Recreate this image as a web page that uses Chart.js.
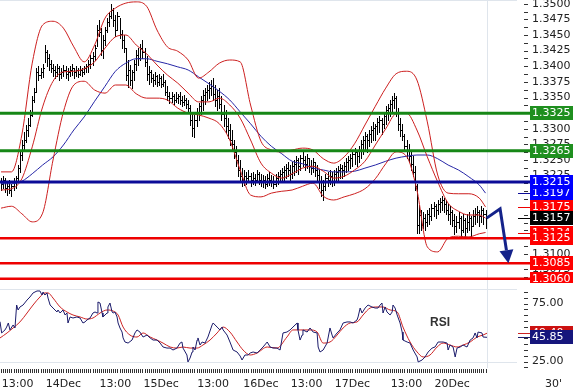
<!DOCTYPE html>
<html lang="en">
<head>
<meta charset="UTF-8">
<title>30' chart</title>
<script src="https://cdn.jsdelivr.net/npm/chart.js"></script>
<style>
  body { margin: 0; background: #fff; }
  #wrap { position: relative; width: 573px; height: 390px; }
  #price { position: absolute; left: 0; top: 0; }
  #rsi { position: absolute; left: 0; top: 283px; }
</style>
</head>
<body>
<div id="wrap">
  <canvas id="price" width="573" height="283"></canvas>
  <canvas id="rsi" width="573" height="107"></canvas>
</div>
<script>
// 30 minute bars, one entry per bar
const high = [
  1.3221,1.3224,1.3221,1.3215,1.3218,1.3212,1.3221,1.3224,1.3242,1.3266,
  1.3282,1.3295,1.3306,1.3317,1.3330,1.3352,1.3365,1.3397,1.3400,1.3397,
  1.3404,1.3434,1.3426,1.3420,1.3410,1.3404,1.3400,1.3404,1.3400,1.3397,
  1.3402,1.3400,1.3397,1.3400,1.3404,1.3397,1.3400,1.3397,1.3400,1.3397,
  1.3400,1.3404,1.3410,1.3418,1.3423,1.3434,1.3466,1.3474,1.3461,1.3450,
  1.3463,1.3477,1.3487,1.3500,1.3493,1.3482,1.3487,1.3477,1.3458,1.3450,
  1.3429,1.3410,1.3402,1.3394,1.3410,1.3426,1.3429,1.3436,1.3442,1.3429,
  1.3416,1.3400,1.3394,1.3388,1.3391,1.3386,1.3388,1.3384,1.3388,1.3378,
  1.3368,1.3359,1.3359,1.3356,1.3359,1.3356,1.3359,1.3352,1.3354,1.3349,
  1.3346,1.3338,1.3327,1.3322,1.3333,1.3341,1.3352,1.3362,1.3365,1.3370,
  1.3375,1.3378,1.3381,1.3370,1.3362,1.3365,1.3352,1.3338,1.3330,1.3317,
  1.3308,1.3298,1.3282,1.3272,1.3258,1.3250,1.3237,1.3234,1.3231,1.3234,
  1.3229,1.3231,1.3228,1.3234,1.3231,1.3228,1.3226,1.3224,1.3228,1.3231,
  1.3226,1.3224,1.3228,1.3231,1.3234,1.3237,1.3240,1.3244,1.3247,1.3242,
  1.3247,1.3250,1.3256,1.3253,1.3258,1.3263,1.3256,1.3260,1.3253,1.3250,
  1.3253,1.3247,1.3242,1.3234,1.3224,1.3218,1.3228,1.3231,1.3234,1.3231,
  1.3234,1.3237,1.3240,1.3244,1.3242,1.3247,1.3253,1.3256,1.3260,1.3266,
  1.3269,1.3266,1.3272,1.3282,1.3288,1.3295,1.3292,1.3298,1.3304,1.3311,
  1.3308,1.3317,1.3320,1.3317,1.3327,1.3336,1.3340,1.3346,1.3352,1.3357,
  1.3352,1.3333,1.3317,1.3308,1.3292,1.3282,1.3276,1.3266,1.3256,1.3240,
  1.3212,1.3178,1.3170,1.3167,1.3164,1.3170,1.3173,1.3180,1.3183,1.3180,
  1.3186,1.3189,1.3192,1.3189,1.3186,1.3180,1.3176,1.3170,1.3164,1.3160,
  1.3167,1.3160,1.3164,1.3157,1.3164,1.3167,1.3160,1.3170,1.3173,1.3176,
  1.3170,1.3176,1.3173,1.3170
];
const low = [
  1.3202,1.3205,1.3199,1.3194,1.3197,1.3192,1.3202,1.3205,1.3218,1.3231,
  1.3250,1.3266,1.3279,1.3288,1.3304,1.3320,1.3343,1.3359,1.3378,1.3381,
  1.3383,1.3407,1.3400,1.3394,1.3391,1.3384,1.3381,1.3384,1.3378,1.3381,
  1.3384,1.3381,1.3378,1.3384,1.3386,1.3381,1.3384,1.3383,1.3386,1.3384,
  1.3388,1.3391,1.3391,1.3397,1.3402,1.3410,1.3432,1.3448,1.3418,1.3413,
  1.3434,1.3455,1.3464,1.3477,1.3464,1.3448,1.3458,1.3445,1.3429,1.3423,
  1.3378,1.3367,1.3370,1.3365,1.3378,1.3394,1.3402,1.3410,1.3413,1.3400,
  1.3378,1.3372,1.3375,1.3368,1.3372,1.3368,1.3370,1.3367,1.3368,1.3354,
  1.3346,1.3341,1.3343,1.3340,1.3343,1.3341,1.3340,1.3336,1.3338,1.3333,
  1.3327,1.3306,1.3288,1.3287,1.3304,1.3314,1.3324,1.3330,1.3340,1.3346,
  1.3349,1.3354,1.3346,1.3336,1.3330,1.3333,1.3314,1.3304,1.3295,1.3285,
  1.3274,1.3266,1.3253,1.3240,1.3224,1.3215,1.3208,1.3210,1.3212,1.3215,
  1.3208,1.3212,1.3210,1.3215,1.3212,1.3208,1.3207,1.3205,1.3208,1.3210,
  1.3208,1.3205,1.3208,1.3212,1.3215,1.3218,1.3218,1.3221,1.3224,1.3218,
  1.3221,1.3226,1.3231,1.3228,1.3234,1.3240,1.3234,1.3237,1.3231,1.3228,
  1.3231,1.3224,1.3218,1.3205,1.3192,1.3186,1.3202,1.3208,1.3212,1.3208,
  1.3210,1.3215,1.3218,1.3221,1.3221,1.3224,1.3231,1.3234,1.3237,1.3240,
  1.3244,1.3240,1.3247,1.3253,1.3260,1.3266,1.3263,1.3272,1.3279,1.3282,
  1.3282,1.3292,1.3295,1.3292,1.3301,1.3308,1.3314,1.3320,1.3327,1.3333,
  1.3320,1.3298,1.3288,1.3282,1.3266,1.3253,1.3247,1.3234,1.3224,1.3202,
  1.3133,1.3133,1.3138,1.3141,1.3138,1.3144,1.3148,1.3154,1.3160,1.3157,
  1.3164,1.3167,1.3170,1.3167,1.3164,1.3154,1.3148,1.3144,1.3132,1.3135,
  1.3141,1.3128,1.3135,1.3128,1.3135,1.3138,1.3128,1.3144,1.3148,1.3151,
  1.3144,1.3151,1.3148,1.3141
];
const close = [
  1.3212,1.3218,1.3205,1.3208,1.3202,1.3208,1.3215,1.3221,1.3237,1.3258,
  1.3274,1.3282,1.3298,1.3306,1.3322,1.3346,1.3359,1.3391,1.3386,1.3391,
  1.3397,1.3423,1.3413,1.3404,1.3397,1.3394,1.3391,1.3397,1.3388,1.3391,
  1.3394,1.3388,1.3391,1.3394,1.3397,1.3391,1.3394,1.3388,1.3394,1.3391,
  1.3397,1.3400,1.3404,1.3413,1.3416,1.3429,1.3458,1.3455,1.3426,1.3442,
  1.3458,1.3471,1.3480,1.3490,1.3474,1.3458,1.3480,1.3452,1.3442,1.3429,
  1.3386,1.3394,1.3378,1.3391,1.3404,1.3418,1.3413,1.3429,1.3423,1.3407,
  1.3388,1.3391,1.3381,1.3378,1.3384,1.3375,1.3381,1.3372,1.3375,1.3359,
  1.3352,1.3349,1.3352,1.3346,1.3349,1.3352,1.3346,1.3343,1.3346,1.3340,
  1.3333,1.3314,1.3301,1.3314,1.3327,1.3336,1.3346,1.3354,1.3359,1.3362,
  1.3365,1.3368,1.3356,1.3346,1.3352,1.3340,1.3324,1.3317,1.3304,1.3298,
  1.3282,1.3276,1.3263,1.3250,1.3234,1.3224,1.3218,1.3224,1.3221,1.3224,
  1.3218,1.3221,1.3218,1.3228,1.3218,1.3215,1.3218,1.3212,1.3221,1.3218,
  1.3215,1.3212,1.3221,1.3224,1.3228,1.3231,1.3234,1.3237,1.3234,1.3228,
  1.3240,1.3244,1.3250,1.3240,1.3253,1.3250,1.3244,1.3253,1.3240,1.3237,
  1.3247,1.3234,1.3226,1.3215,1.3202,1.3208,1.3221,1.3218,1.3224,1.3215,
  1.3228,1.3231,1.3234,1.3237,1.3234,1.3240,1.3247,1.3250,1.3253,1.3260,
  1.3263,1.3256,1.3266,1.3276,1.3282,1.3288,1.3282,1.3292,1.3298,1.3301,
  1.3304,1.3311,1.3314,1.3308,1.3320,1.3330,1.3333,1.3340,1.3346,1.3349,
  1.3327,1.3308,1.3298,1.3288,1.3272,1.3266,1.3256,1.3244,1.3231,1.3208,
  1.3146,1.3162,1.3146,1.3157,1.3151,1.3164,1.3160,1.3173,1.3176,1.3170,
  1.3180,1.3183,1.3186,1.3180,1.3170,1.3164,1.3167,1.3154,1.3144,1.3151,
  1.3157,1.3138,1.3154,1.3141,1.3151,1.3157,1.3144,1.3160,1.3164,1.3167,
  1.3160,1.3170,1.3164,1.3157
];

// indicators, read every 5 bars
const bandBars = [0,5,10,15,20,25,30,35,40,45,50,55,60,65,70,75,80,85,90,95,
  100,105,110,115,120,125,130,135,140,145,150,155,160,165,170,175,180,185,190,195,
  200,205,210,215,220,225,230,233];
const bbUpper = [
  1.3231,1.3231,1.3290,1.3405,1.3466,1.3472,1.3461,1.3431,1.3407,1.3434,
  1.3477,1.3493,1.3501,1.3503,1.3496,1.3458,1.3431,1.3424,1.3410,1.3381,
  1.3391,1.3405,1.3410,1.3407,1.3338,1.3280,1.3266,1.3263,1.3266,1.3269,
  1.3266,1.3252,1.3245,1.3255,1.3276,1.3306,1.3336,1.3365,1.3388,1.3392,
  1.3378,1.3311,1.3226,1.3197,1.3196,1.3196,1.3189,1.3175];
const bbMid = [
  1.3202,1.3204,1.3220,1.3271,1.3335,1.3376,1.3391,1.3392,1.3396,1.3407,
  1.3429,1.3447,1.3450,1.3434,1.3420,1.3402,1.3386,1.3373,1.3357,1.3343,
  1.3343,1.3349,1.3338,1.3317,1.3282,1.3245,1.3229,1.3221,1.3228,1.3237,
  1.3240,1.3232,1.3221,1.3224,1.3234,1.3248,1.3274,1.3300,1.3324,1.3325,
  1.3298,1.3255,1.3215,1.3181,1.3168,1.3162,1.3162,1.3157];
const bbLower = [
  1.3173,1.3176,1.3164,1.3151,1.3165,1.3250,1.3327,1.3370,1.3376,1.3362,
  1.3357,1.3370,1.3370,1.3356,1.3349,1.3349,1.3346,1.3333,1.3325,1.3322,
  1.3317,1.3308,1.3282,1.3234,1.3194,1.3191,1.3197,1.3200,1.3202,1.3208,
  1.3213,1.3192,1.3186,1.3191,1.3196,1.3204,1.3220,1.3244,1.3263,1.3256,
  1.3202,1.3111,1.3103,1.3125,1.3128,1.3127,1.3132,1.3134];
const maSlow = [
  1.3212,1.3212,1.3216,1.3228,1.3242,1.3255,1.3274,1.3298,1.3319,1.3344,
  1.3368,1.3392,1.3405,1.3412,1.3412,1.3408,1.3404,1.3399,1.3394,1.3383,
  1.3372,1.3360,1.3346,1.3327,1.3308,1.3288,1.3272,1.3260,1.3248,1.3244,
  1.3237,1.3234,1.3231,1.3231,1.3232,1.3237,1.3242,1.3248,1.3253,1.3256,
  1.3258,1.3258,1.3252,1.3242,1.3234,1.3223,1.3210,1.3197];

// support / resistance lines
const levelValues = [1.3325, 1.3265, 1.3215, 1.3125, 1.3085, 1.3060];
const levelKinds  = ['green', 'green', 'blue', 'red', 'red', 'red'];

// projected path
const targetBars   = [233.5, 240, 244];
const targetPrices = [1.3157, 1.3172, 1.3085];

const priceTickLabels = ['1.3075','1.3100','1.3125','1.3150','1.3175','1.3200','1.3225','1.3250','1.3275',
  '1.3300','1.3325','1.3350','1.3375','1.3400','1.3425','1.3450','1.3475','1.3500'];

// RSI and its average
const rsiBar = [
  -0.5,0.3,1.9,2.7,3.5,4.3,5.8,6.7,7.5,8.2,9.1,10.6,12.5,13.9,15.4,17.3,18.7,19.7,20.2,21.1,
  22.1,22.6,23.6,25.0,26.9,27.4,28.4,29.8,30.8,31.7,32.2,33.2,34.6,36.5,38.0,39.4,40.4,41.3,42.8,44.2,
  45.2,46.2,46.6,47.6,48.6,49.0,51.0,51.4,52.4,53.4,53.9,54.8,55.8,56.3,57.2,58.2,58.7,59.6,61.1,63.0,
  64.4,65.4,66.8,68.3,70.2,71.7,73.1,75.0,76.5,77.9,79.8,81.3,82.7,84.6,86.1,87.0,87.5,89.4,89.9,90.9,
  91.9,92.3,93.3,94.3,94.7,95.7,96.7,98.1,99.5,101.5,102.0,103.9,105.3,106.3,106.8,108.7,110.1,111.6,113.5,115.0,
  115.9,117.3,118.8,119.8,121.2,123.1,124.6,126.0,128.0,129.4,130.8,132.7,134.2,135.6,137.5,139.0,140.4,142.4,142.8,143.8,
  144.8,145.2,147.2,148.6,150.1,152.0,152.5,153.4,154.9,156.8,158.2,159.2,159.7,161.6,163.0,164.5,166.4,167.9,169.3,171.2,
  171.7,172.7,173.6,175.1,176.5,178.4,179.9,181.3,182.3,183.2,183.7,184.7,185.6,187.1,188.1,188.5,189.5,190.5,191.9,192.9,
  193.3,195.3,196.7,198.2,200.1,200.6,202.5,203.9,205.4,207.3,208.7,210.2,212.6,214.5,215.0,215.9,217.4,218.4,219.3,220.8,
  222.2,224.1,225.6,227.0,228.0,228.9,229.4,231.3,231.8,233.7];
const rsiVal = [
  59.3,49.6,52.2,54.7,58.2,52.2,56.5,53.9,73.7,69.4,72.0,73.7,78.0,80.6,84.1,85.8,85.8,82.3,84.9,82.3,
  84.1,79.7,73.7,71.1,67.7,69.4,66.8,69.4,65.1,66.8,58.2,63.4,62.5,63.4,62.5,58.2,59.1,60.8,62.5,66.8,
  67.7,66.8,76.3,75.4,66.8,63.4,66.8,72.0,75.4,67.7,66.8,67.7,63.4,58.2,53.9,50.4,45.3,41.8,40.9,43.5,
  49.6,52.2,50.4,46.1,47.8,45.3,43.5,43.5,40.9,37.5,36.6,36.6,34.9,36.6,40.9,41.8,36.6,30.6,24.6,28.0,
  33.2,37.5,34.9,43.5,45.3,39.2,41.8,40.9,46.1,56.5,58.2,54.7,52.2,54.7,52.2,47.8,41.8,34.9,33.2,29.7,
  26.3,30.6,30.6,32.3,33.2,32.3,34.9,37.5,41.8,37.5,36.6,36.6,34.9,49.6,50.4,52.2,54.7,58.2,52.2,43.5,
  47.8,52.2,50.4,53.9,50.4,49.6,37.5,33.2,34.9,40.9,53.9,47.8,45.3,49.6,52.2,58.2,59.1,59.1,58.2,60.8,
  63.4,71.1,66.8,71.1,73.7,72.0,71.1,71.1,73.7,75.4,66.8,72.0,67.7,65.1,67.7,73.7,71.1,65.1,58.2,50.4,
  43.5,41.8,40.9,34.9,28.9,24.6,26.3,28.9,33.2,36.6,37.5,41.8,41.8,40.9,34.9,39.2,37.5,28.9,36.6,37.5,
  39.2,37.5,43.5,45.3,49.6,45.3,50.4,49.6,46.1,45.85];
const rsiMaBar = [
  -0.5,2.9,5.8,9.1,12.5,15.4,18.7,21.1,22.6,25.0,28.4,31.7,34.6,38.0,41.3,44.2,47.6,51.0,53.9,56.3,
  58.7,62.0,65.4,68.3,71.7,75.0,77.9,81.3,84.6,87.5,90.9,94.3,97.1,100.5,103.9,106.8,110.1,113.5,116.4,119.8,
  123.1,128.0,132.7,137.5,140.4,143.8,148.6,152.0,154.9,158.2,161.6,164.5,167.9,171.2,174.1,177.5,180.8,183.7,187.1,190.5,
  193.3,196.7,200.1,203.0,206.3,209.7,212.6,215.9,219.3,222.2,225.6,228.9,231.8,233.7];
const rsiMaVal = [
  45.3,49.6,53.9,59.1,66.8,73.7,80.6,84.1,84.1,79.7,72.0,67.7,65.1,63.4,61.6,62.5,66.8,69.4,68.5,65.1,
  54.7,47.8,46.1,49.6,46.1,43.5,40.9,37.5,36.6,37.5,36.6,36.6,39.2,43.5,49.6,54.7,50.4,41.8,34.9,30.6,
  32.3,37.5,36.6,46.1,52.2,52.2,52.2,50.4,40.9,41.8,47.8,53.9,58.2,59.1,65.1,71.1,72.0,72.0,69.4,67.7,
  54.7,41.8,33.2,28.9,30.6,37.5,40.9,39.2,37.5,39.2,41.8,46.1,47.8,49.4];
const rsiTickLabels = ['25.00', '75.00'];

const timeBars   = [8, 30, 55, 77, 102, 125, 147, 169, 195, 217];
const timeLabels = ['13:00','14Dec','13:00','15Dec','13:00','16Dec','13:00','17Dec','13:00','20Dec'];

const COL = {
  green: '#168716', greenBox: '#1f8f1f',
  blue: '#0b0b98', blueBox: '#0000ff',
  red: '#ee0000', redBox: '#ff0000',
  band: '#cc1f1f', ma: '#2626a6', frame: '#dfe5ec', arrow: '#14228a', tick: '#333'
};
const NO_LINE = 'rgba(0,0,0,0)';

Chart.defaults.font.family = "'DejaVu Sans', Verdana, sans-serif";
Chart.defaults.font.size = 11;
Chart.defaults.color = '#222';

function series(xs, ys, color, smooth) {
  return {
    data: xs.map((v, k) => ({ x: v, y: ys[k] })),
    borderColor: color, borderWidth: 1, pointRadius: 0, fill: false,
    cubicInterpolationMode: smooth ? 'monotone' : 'default', tension: 0
  };
}

function valueBox(ctx, y, text, bg) {
  const yy = Math.round(y);
  ctx.fillStyle = bg;
  ctx.fillRect(530, yy - 7, 43, 14);
  ctx.fillStyle = '#fff';
  ctx.textAlign = 'left';
  ctx.textBaseline = 'middle';
  ctx.fillText(text, 532, yy + 0.5);
}

function stub(ctx, y, color) {
  ctx.fillStyle = color;
  ctx.fillRect(518, Math.round(y), 12, 1);
}

// small dashes next to the right-hand axis labels
function yTicks(chart) {
  const { ctx, chartArea: a, scales: { y } } = chart;
  ctx.fillStyle = COL.tick;
  y.ticks.forEach(t => ctx.fillRect(a.right, Math.round(y.getPixelForValue(t.value)), 4, 1));
}

const pricePlugin = {
  id: 'pricePlugin',
  beforeDatasetsDraw(chart) {
    const { ctx, chartArea: a, scales: { x, y } } = chart;
    ctx.save();
    ctx.fillStyle = COL.frame;
    ctx.fillRect(0, 0, 517, 1);
    const xe = Math.round(x.getPixelForValue(high.length - 1)) + 1;
    ctx.fillRect(xe, 0, 1, a.bottom);
    // ohlc bars
    ctx.fillStyle = '#000';
    for (let i = 0; i < high.length; i++) {
      const px = Math.round(x.getPixelForValue(i));
      const yh = Math.round(y.getPixelForValue(high[i]));
      const yl = Math.round(y.getPixelForValue(low[i]));
      ctx.fillRect(px, yh, 1, Math.max(1, yl - yh + 1));
      ctx.fillRect(px + 1, Math.round(y.getPixelForValue(close[i])), 1, 1);
      if (i > 0) ctx.fillRect(px - 1, Math.round(y.getPixelForValue(close[i - 1])), 1, 1);
    }
    yTicks(chart);
    ctx.restore();
  },
  afterDatasetsDraw(chart) {
    const { ctx, scales: { x, y } } = chart;
    ctx.save();
    ctx.font = "11px 'DejaVu Sans', Verdana, sans-serif";
    // horizontal levels
    levelValues.forEach((v, k) => {
      const yy = y.getPixelForValue(v);
      ctx.strokeStyle = COL[levelKinds[k]];
      ctx.lineWidth = levelKinds[k] === 'red' ? 2.5 : 3;
      ctx.beginPath(); ctx.moveTo(0, yy); ctx.lineTo(530, yy); ctx.stroke();
    });
    // projection arrow
    const pts = targetBars.map((b, k) => [x.getPixelForValue(b), y.getPixelForValue(targetPrices[k])]);
    const [x1, y1] = pts[1], [x2, y2] = pts[2];
    const ang = Math.atan2(y2 - y1, x2 - x1);
    const hl = 13, hw = 7;
    const bx = x2 - hl * Math.cos(ang), by = y2 - hl * Math.sin(ang);
    ctx.strokeStyle = COL.arrow; ctx.fillStyle = COL.arrow; ctx.lineWidth = 3;
    ctx.lineJoin = 'miter';
    ctx.beginPath(); ctx.moveTo(pts[0][0], pts[0][1]); ctx.lineTo(x1, y1); ctx.lineTo(bx, by); ctx.stroke();
    ctx.beginPath();
    ctx.moveTo(x2, y2);
    ctx.lineTo(bx + hw * Math.sin(ang), by - hw * Math.cos(ang));
    ctx.lineTo(bx - hw * Math.sin(ang), by + hw * Math.cos(ang));
    ctx.closePath(); ctx.fill();
    // current indicator values
    const last = bandBars.length - 1;
    const ind = [
      [bbMid[last], COL.red, COL.redBox],
      [bbUpper[last], COL.red, COL.redBox],
      [maSlow[last], COL.blue, COL.blueBox],
      [bbLower[last], COL.red, COL.redBox],
      [close[close.length - 1], '#000', '#000']
    ];
    ind.forEach(([v, c]) => stub(ctx, y.getPixelForValue(v), c));
    ind.forEach(([v, c, b]) => valueBox(ctx, y.getPixelForValue(v), v.toFixed(4), b));
    levelValues.forEach((v, k) => valueBox(ctx, y.getPixelForValue(v), v.toFixed(4), COL[levelKinds[k] + 'Box']));
    ctx.restore();
  }
};

new Chart(document.getElementById('price'), {
  type: 'line',
  data: {
    datasets: [
      series(bandBars, bbUpper, COL.band, true),
      series(bandBars, bbMid, COL.band, true),
      series(bandBars, bbLower, COL.band, true),
      series(bandBars, maSlow, COL.ma, true)
    ]
  },
  options: {
    responsive: false, animation: false, events: [],
    layout: { padding: 0 },
    plugins: { legend: { display: false }, tooltip: { enabled: false } },
    scales: {
      x: { type: 'linear', min: -0.5, max: 251.5, display: false },
      y: {
        position: 'right', min: 1.30532, max: 1.3506,
        grid: { drawOnChartArea: false, drawTicks: true, tickLength: 4, color: NO_LINE },
        border: { display: false },
        afterBuildTicks: s => {
          const t = [];
          priceTickLabels.forEach(l => { const v = parseFloat(l); t.push({ value: v - 0.00125 }, { value: v }); });
          s.ticks = t;
        },
        ticks: {
          autoSkip: false, padding: 4, color: '#222',
          callback: v => { const s = v.toFixed(4); return priceTickLabels.includes(s) ? s : ''; }
        },
        afterFit: s => { s.width = 49; s.paddingTop = 0; s.paddingBottom = 0; }
      }
    }
  },
  plugins: [pricePlugin]
});

const rsiPlugin = {
  id: 'rsiPlugin',
  beforeDatasetsDraw(chart) {
    const { ctx, chartArea: a, scales: { x, y } } = chart;
    ctx.save();
    ctx.fillStyle = COL.frame;
    ctx.fillRect(0, a.top, 517, 1);
    ctx.fillRect(0, Math.round(y.getPixelForValue(25)), 517, 1);
    const xe = Math.round(x.getPixelForValue(high.length - 1)) + 1;
    ctx.fillRect(xe, 0, 1, a.bottom);
    // one tick per bar under the panel
    ctx.fillStyle = COL.tick;
    x.ticks.forEach(t => ctx.fillRect(Math.round(x.getPixelForValue(t.value)), a.bottom + 1, 1, 4));
    yTicks(chart);
    ctx.restore();
  },
  afterDatasetsDraw(chart) {
    const { ctx, scales: { y } } = chart;
    ctx.save();
    ctx.font = "bold 12px 'Liberation Sans', Arial, sans-serif";
    ctx.fillStyle = '#333';
    ctx.textAlign = 'center';
    ctx.textBaseline = 'middle';
    ctx.fillText('RSI', 440, 40);
    ctx.font = "11px 'DejaVu Sans', Verdana, sans-serif";
    const ma = rsiMaVal[rsiMaVal.length - 1], r = rsiVal[rsiVal.length - 1];
    stub(ctx, y.getPixelForValue(ma), '#cc2222');
    stub(ctx, y.getPixelForValue(r), '#1b1b6b');
    valueBox(ctx, y.getPixelForValue(ma), ma.toFixed(2), '#cc1111');
    valueBox(ctx, y.getPixelForValue(r), r.toFixed(2), '#16167c');
    ctx.fillStyle = '#222';
    ctx.textAlign = 'left';
    ctx.fillText("30'", 545, 101.5);
    ctx.restore();
  }
};

new Chart(document.getElementById('rsi'), {
  type: 'line',
  data: {
    datasets: [
      series(rsiBar, rsiVal, '#1b1b6b', false),
      series(rsiMaBar, rsiMaVal, '#cc2222', true)
    ]
  },
  options: {
    responsive: false, animation: false, events: [],
    layout: { padding: { top: 6, left: 0, right: 0, bottom: 0 } },
    plugins: { legend: { display: false }, tooltip: { enabled: false } },
    scales: {
      x: {
        type: 'linear', min: -0.5, max: 251.5,
        grid: { drawOnChartArea: false, drawTicks: true, tickLength: 5, color: NO_LINE },
        border: { display: false },
        afterBuildTicks: s => { s.ticks = high.map((_, i) => ({ value: i })); },
        ticks: {
          autoSkip: false, maxRotation: 0, minRotation: 0, padding: 5, color: '#222',
          callback: v => { const k = timeBars.indexOf(v); return k >= 0 ? timeLabels[k] : ''; }
        },
        afterFit: s => { s.height = 22; s.paddingLeft = 0; s.paddingRight = 0; }
      },
      y: {
        position: 'right', min: 19.4, max: 87.5,
        grid: { drawOnChartArea: false, drawTicks: true, tickLength: 4, color: NO_LINE },
        border: { display: false },
        afterBuildTicks: s => {
          const t = [];
          for (let v = 20; v <= 85; v += 5) t.push({ value: v });
          s.ticks = t;
        },
        ticks: {
          autoSkip: false, padding: 4, color: '#222',
          callback: v => { const s = v.toFixed(2); return rsiTickLabels.includes(s) ? s : ''; }
        },
        afterFit: s => { s.width = 49; s.paddingTop = 0; s.paddingBottom = 0; }
      }
    }
  },
  plugins: [rsiPlugin]
});
</script>
</body>
</html>
